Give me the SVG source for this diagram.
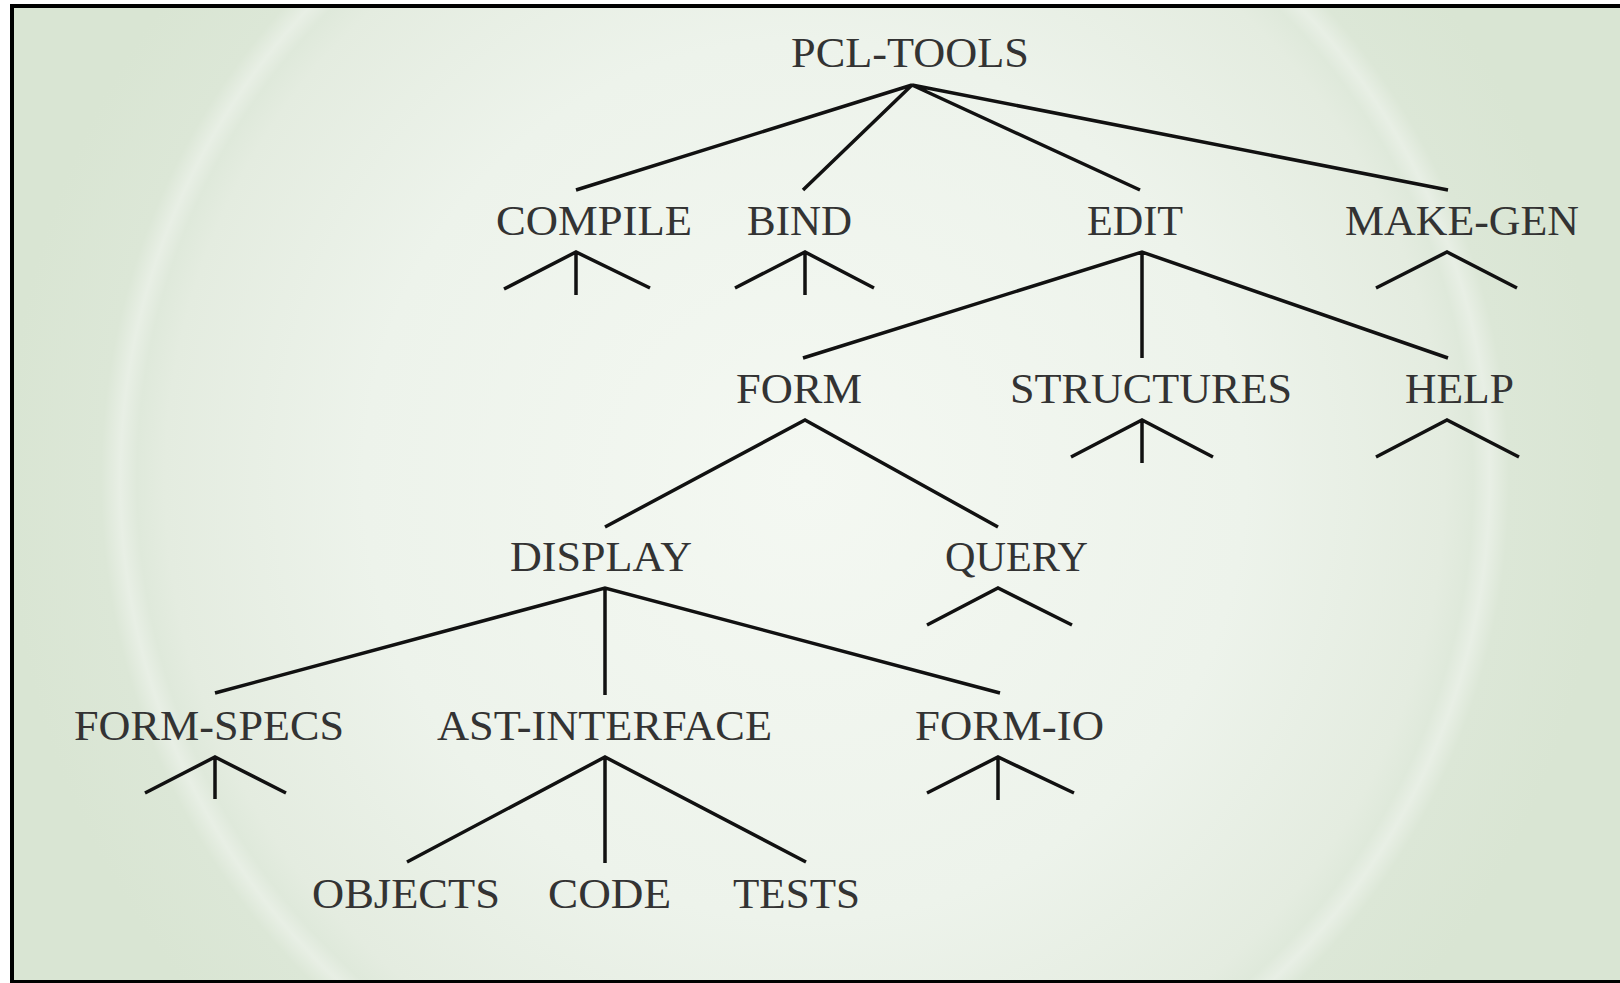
<svg xmlns="http://www.w3.org/2000/svg" width="1620" height="983" viewBox="0 0 1620 983">
<defs>
<radialGradient id="bg" gradientUnits="userSpaceOnUse" cx="805" cy="480" r="800">
<stop offset="0" stop-color="#f4f8f2"/>
<stop offset="0.55" stop-color="#edf3eb"/>
<stop offset="0.8" stop-color="#e4ece0"/>
<stop offset="0.835" stop-color="#dfe9db"/>
<stop offset="0.856" stop-color="#e8efe5"/>
<stop offset="0.88" stop-color="#dce7d7"/>
<stop offset="1" stop-color="#d9e5d3"/>
</radialGradient>
<style>
.lbl{font-family:"Liberation Serif","Times New Roman",serif;font-size:42px;fill:#333;}
.ln{stroke:#111;stroke-width:3.5;fill:none;stroke-linejoin:miter;stroke-linecap:butt;}
</style>
</defs>
<rect x="0" y="0" width="1620" height="983" fill="#ffffff"/>
<rect x="12" y="6" width="1608" height="976" fill="url(#bg)"/>
<path d="M12 983 V6 H1620 M12 982 H1620" stroke="#000" stroke-width="4" fill="none"/>

<g id="connectors">
<path class="ln" d="M576 190 L912 85 L803 190 M912 85 L1140 190 M912 85 L1448 190"/>
<path class="ln" d="M803 358 L1142 252 L1448 358 M1142 252 V358"/>
<path class="ln" d="M605 527 L805 420 L998 527"/>
<path class="ln" d="M215 693 L605 588 L1000 693 M605 588 V695"/>
<path class="ln" d="M407 862 L605 757 L806 862 M605 757 V863"/>
<path class="ln" d="M504 289 L576 252 L650 288 M576 252 V295"/>
<path class="ln" d="M735 288 L805 252 L874 288 M805 252 V295"/>
<path class="ln" d="M1376 288 L1447 252 L1517 288"/>
<path class="ln" d="M1071 457 L1142 420 L1213 457 M1142 420 V463"/>
<path class="ln" d="M1376 457 L1447 420 L1519 457"/>
<path class="ln" d="M927 625 L998 588 L1072 625"/>
<path class="ln" d="M145 793 L215 757 L286 793 M215 757 V799"/>
<path class="ln" d="M927 793 L998 757 L1074 793 M998 757 V800"/>
</g>

<g id="pcl-tools"><text class="lbl" x="791" y="67" textLength="238" lengthAdjust="spacingAndGlyphs">PCL-TOOLS</text></g>
<g id="compile"><text class="lbl" x="496" y="235" textLength="196" lengthAdjust="spacingAndGlyphs">COMPILE</text></g>
<g id="bind"><text class="lbl" x="747" y="235" textLength="105" lengthAdjust="spacingAndGlyphs">BIND</text></g>
<g id="edit"><text class="lbl" x="1087" y="235" textLength="96" lengthAdjust="spacingAndGlyphs">EDIT</text></g>
<g id="make-gen"><text class="lbl" x="1345" y="235" textLength="234" lengthAdjust="spacingAndGlyphs">MAKE-GEN</text></g>
<g id="form"><text class="lbl" x="736" y="403" textLength="126" lengthAdjust="spacingAndGlyphs">FORM</text></g>
<g id="structures"><text class="lbl" x="1010" y="403" textLength="282" lengthAdjust="spacingAndGlyphs">STRUCTURES</text></g>
<g id="help"><text class="lbl" x="1405" y="403" textLength="109" lengthAdjust="spacingAndGlyphs">HELP</text></g>
<g id="display"><text class="lbl" x="510" y="571" textLength="182" lengthAdjust="spacingAndGlyphs">DISPLAY</text></g>
<g id="query"><text class="lbl" x="945" y="571" textLength="143" lengthAdjust="spacingAndGlyphs">QUERY</text></g>
<g id="form-specs"><text class="lbl" x="74" y="740" textLength="270" lengthAdjust="spacingAndGlyphs">FORM-SPECS</text></g>
<g id="ast-interface"><text class="lbl" x="437" y="740" textLength="335" lengthAdjust="spacingAndGlyphs">AST-INTERFACE</text></g>
<g id="form-io"><text class="lbl" x="915" y="740" textLength="189" lengthAdjust="spacingAndGlyphs">FORM-IO</text></g>
<g id="objects"><text class="lbl" x="312" y="908" textLength="188" lengthAdjust="spacingAndGlyphs">OBJECTS</text></g>
<g id="code"><text class="lbl" x="548" y="908" textLength="123" lengthAdjust="spacingAndGlyphs">CODE</text></g>
<g id="tests"><text class="lbl" x="733" y="908" textLength="127" lengthAdjust="spacingAndGlyphs">TESTS</text></g>
</svg>
